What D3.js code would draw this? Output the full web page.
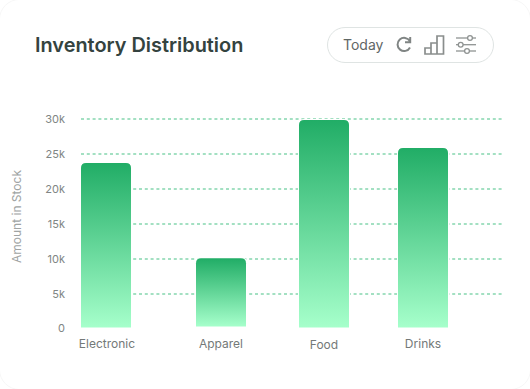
<!DOCTYPE html>
<html>
<head>
<meta charset="utf-8">
<script src="https://cdn.jsdelivr.net/npm/d3@7/dist/d3.min.js"></script>
<style>
  html, body { margin: 0; padding: 0; background: #fff; }
  svg { display: block; }
  text { font-family: Inter, "Noto Sans", sans-serif; }
</style>
</head>
<body>
<div id="chart"></div>
<script>
const categories = ['Electronic', 'Apparel', 'Food', 'Drinks'];
const stockValues = [23700, 10100, 29850, 25850];
const baseValues = [0, 150, 0, 0];
const tickValues = [0, 5000, 10000, 15000, 20000, 25000, 30000];
const tickLabels = ['0', '5k', '10k', '15k', '20k', '25k', '30k'];

const width = 530, height = 389;
const barWidth = 50;
const gridLeft = 81, gridRight = 502;

const svg = d3.select('#chart').append('svg')
  .attr('width', width)
  .attr('height', height);

// the bars are not evenly spaced in the picture
const xScale = d3.scaleOrdinal().domain(categories).range([106, 221, 324, 423]);
// zero sits 2px above where the 5k steps would put it
const yScale = d3.scaleLinear().domain([0, 5000, 30000]).range([327.5, 294, 119]);

const grad = svg.append('defs').append('linearGradient')
  .attr('id', 'barFill')
  .attr('x1', 0).attr('y1', 0).attr('x2', 0).attr('y2', 1);
grad.append('stop').attr('offset', '0%').attr('stop-color', '#21ad66');
grad.append('stop').attr('offset', '100%').attr('stop-color', '#a6ffcb');

// card, barely visible at the corners
svg.append('rect')
  .attr('x', -0.5).attr('y', -0.5)
  .attr('width', width + 1).attr('height', height + 1)
  .attr('rx', 20)
  .attr('fill', '#fff')
  .attr('stroke', '#f7f7f7');

svg.append('text')
  .attr('x', 35).attr('y', 52)
  .attr('font-size', 19.9)
  .attr('font-weight', 600)
  .attr('fill', '#34433f')
  .text('Inventory Distribution');

// toolbar
const toolbar = svg.append('g');
toolbar.append('rect')
  .attr('x', 327.5).attr('y', 27.5)
  .attr('width', 166).attr('height', 35)
  .attr('rx', 17.5)
  .attr('fill', '#fff')
  .attr('stroke', '#dfe4e3');
toolbar.append('text')
  .attr('x', 343).attr('y', 50)
  .attr('font-size', 14)
  .attr('fill', '#5f6665')
  .text('Today');
toolbar.append('path')
  .attr('d', 'M409.8 41 A6.6 6.6 0 1 0 410 47.5 M410.2 37 V42.2 H405')
  .attr('fill', 'none')
  .attr('stroke', '#808584')
  .attr('stroke-width', 2);
toolbar.append('path')
  .attr('d', 'M425 48 H431 V54 H425 Z M431 43 H437 V54 H431 Z M437 36 H443.5 V54 H437 Z')
  .attr('fill', 'none')
  .attr('stroke', '#8a8e8d')
  .attr('stroke-width', 1.7);
const sliders = toolbar.append('g')
  .attr('fill', '#fff')
  .attr('stroke', '#8f9392')
  .attr('stroke-width', 1.3);
[[38, 470], [44.7, 460.7], [51, 467]].forEach(([y, knob]) => {
  sliders.append('line').attr('x1', 456).attr('x2', 476).attr('y1', y).attr('y2', y);
  sliders.append('circle').attr('cx', knob).attr('cy', y).attr('r', 2.4);
});

// grid
svg.append('g')
  .selectAll('line')
  .data(tickValues.slice(1))
  .join('line')
  .attr('x1', gridLeft).attr('x2', gridRight)
  .attr('y1', d => yScale(d)).attr('y2', d => yScale(d))
  .attr('stroke', '#a3e0c2')
  .attr('stroke-width', 2)
  .attr('stroke-dasharray', '3,2.8');

// y axis
const yAxis = d3.axisLeft(yScale)
  .tickValues(tickValues)
  .tickFormat((d, i) => tickLabels[i])
  .tickSize(0)
  .tickPadding(0);
svg.append('g')
  .attr('transform', 'translate(65,0)')
  .call(yAxis)
  .call(g => g.select('.domain').remove())
  .call(g => g.selectAll('.tick text')
    .attr('font-family', 'Inter, "Noto Sans", sans-serif')
    .attr('font-size', 11)
    .attr('fill', '#808584'));

svg.append('text')
  .attr('transform', 'translate(20.5,216.5) rotate(-90)')
  .attr('text-anchor', 'middle')
  .attr('font-size', 12)
  .attr('fill', '#a0a4a3')
  .text('Amount in Stock');

// bars, rounded on top only
const r = 5;
svg.append('g')
  .selectAll('path')
  .data(categories)
  .join('path')
  .attr('fill', 'url(#barFill)')
  .attr('stroke', '#fff')
  .attr('stroke-width', 2)
  .attr('paint-order', 'stroke')
  .attr('d', (d, i) => {
    const x0 = xScale(d) - barWidth / 2, x1 = x0 + barWidth;
    const top = yScale(stockValues[i]), bottom = yScale(baseValues[i]);
    return `M${x0},${bottom}V${top + r}Q${x0},${top} ${x0 + r},${top}H${x1 - r}Q${x1},${top} ${x1},${top + r}V${bottom}Z`;
  });

// x labels, Food sits a pixel lower than the others
svg.append('g')
  .selectAll('text')
  .data(categories)
  .join('text')
  .attr('x', d => xScale(d) + (d === 'Electronic' ? 1 : 0))
  .attr('y', d => d === 'Food' ? 349 : 348)
  .attr('text-anchor', 'middle')
  .attr('font-size', 12)
  .attr('fill', '#747978')
  .text(d => d);
</script>
</body>
</html>
